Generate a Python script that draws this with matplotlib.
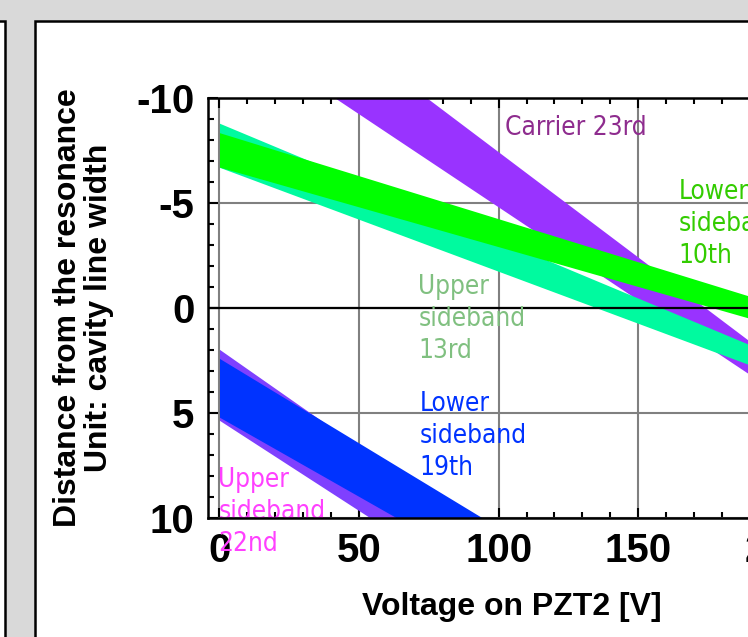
import matplotlib.pyplot as plt
from matplotlib.patches import Rectangle
from matplotlib.ticker import MultipleLocator

plt.rcParams["axes.unicode_minus"] = False

# voltage on PZT2 [V], start and end of every line family
volt = [0, 210]

# band edges (distance from resonance, cavity line widths) at volt[0] and volt[1]
carrier23_a = [-17.45, 3.59]
carrier23_b = [-13.67, 4.94]
upper13_a = [-8.80, 2.86]
upper13_b = [-6.70, 3.70]
lower10_a = [-8.35, 0.26]
lower10_b = [-6.71, 1.25]
upper22_a = [1.97, 21.50]
upper22_b = [5.35, 23.41]
lower19_a = [2.40, 19.33]
lower19_b = [5.20, 21.06]

xticks = [0, 50, 100, 150, 200]
yticks = [-10, -5, 0, 5, 10]

fig = plt.figure(figsize=(7.48, 6.37), dpi=100, facecolor="#d9d9d9")

# panel frames of the screenshot
fig.add_artist(Rectangle((-0.05, -0.05), 0.057, 1.017, transform=fig.transFigure,
                         facecolor="white", edgecolor="black", lw=1.8, zorder=-10))
fig.add_artist(Rectangle((0.0468, -0.05), 1.2, 1.017, transform=fig.transFigure,
                         facecolor="white", edgecolor="black", lw=1.8, zorder=-10))

ax = fig.add_axes([0.2785, 0.1868, 0.806, 0.6593])
ax.set_xlim(-4, 212)
ax.set_ylim(10, -10)

ax.grid(True, which="major", color="#808080", lw=1.5, zorder=0)
ax.set_axisbelow(True)

ax.fill_between(volt, carrier23_a, carrier23_b, color="#9933ff", lw=0, zorder=2)
ax.fill_between(volt, upper13_a, upper13_b, color="#00fa9f", lw=0, zorder=3)
ax.fill_between(volt, lower10_a, lower10_b, color="#00ff00", lw=0, zorder=4)
ax.fill_between(volt, upper22_a, upper22_b, color="#7f40ff", lw=0, zorder=5)
ax.fill_between(volt, lower19_a, lower19_b, color="#0033ff", lw=0, zorder=6)
ax.axhline(0, color="black", lw=1.6, zorder=7)

tf = dict(family="DejaVu Sans", stretch="condensed", fontsize=18.8, ha="left", va="top",
          linespacing=1.3, zorder=8)
ax.text(102.3, -9.2, "Carrier 23rd", color="#8e2c8e", **tf)
ax.text(164.4, -6.15, "Lower\nsideband\n10th", color="#33cc00", **tf)
ax.text(71.3, -1.6, "Upper\nsideband\n13rd", color="#80c080", **tf)
ax.text(71.6, 3.95, "Lower\nsideband\n19th", color="#0033ff", **tf)
ax.text(-0.4, 7.55, "Upper\nsideband\n22nd", color="#ff40ff", clip_on=False, **tf)

ax.set_xticks(xticks)
ax.set_yticks(yticks)
ax.xaxis.set_minor_locator(MultipleLocator(10))
ax.yaxis.set_minor_locator(MultipleLocator(1))
ax.tick_params(which="both", direction="in", top=True, right=True, width=1.5)
ax.tick_params(which="major", length=7, labelsize=29)
ax.tick_params(axis="x", which="major", pad=10)
ax.tick_params(axis="y", which="major", pad=10)
ax.tick_params(which="minor", length=4)
for lab in ax.get_xticklabels() + ax.get_yticklabels():
    lab.set_family("Liberation Sans")
    lab.set_fontweight("bold")
for sp in ax.spines.values():
    sp.set_linewidth(1.8)
    sp.set_zorder(9)

lf = dict(family="Liberation Sans", fontweight="bold", fontsize=23)
ax.set_xlabel("Voltage on PZT2 [V]", va="center", **lf)
ax.xaxis.set_label_coords(0.503, -0.212)
ax.set_ylabel("Distance from the resonance\nUnit: cavity line width", va="center",
              linespacing=1.05, **lf)
ax.yaxis.set_label_coords(-0.2075, 0.5)

fig.savefig("out.png", dpi=100, facecolor=fig.get_facecolor())
